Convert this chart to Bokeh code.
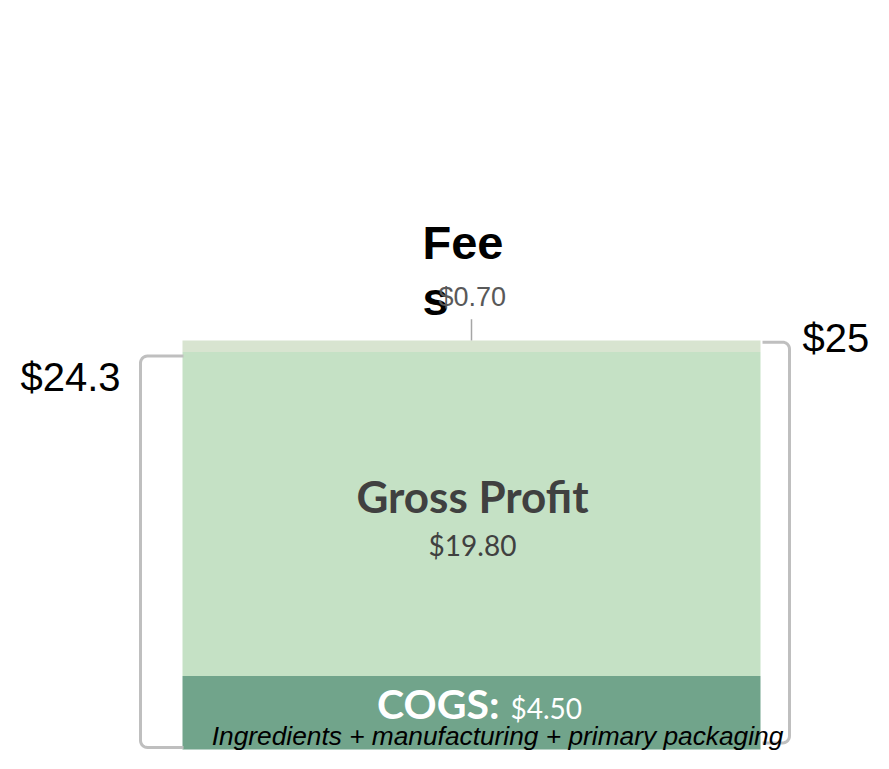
import numpy as np
from bokeh.plotting import figure
from bokeh.models import Range1d, Label, ColumnDataSource
from bokeh.embed import file_html
from bokeh.resources import INLINE

# ---- data ----
segments = ["COGS", "Gross Profit", "Fees"]
values = [4.50, 19.80, 0.70]
colors = ["#71a48b", "#c5e1c5", "#d8e4d0"]
cogs_note = "Ingredients + manufacturing + primary packaging"
subtotal_label = "$24.3"
total_label = "$25"

total = sum(values)
bottoms = [sum(values[:i]) for i in range(len(values))]
tops = [b + v for b, v in zip(bottoms, values)]
subtotal = values[0] + values[1]

W, H = 873, 753
px_per_unit = 16.36
y0_px = 749  # frame pixel (from top) of value 0
y_start = -(H - y0_px) / px_per_unit
y_end = y0_px / px_per_unit

p = figure(width=W, height=H, output_backend="svg", toolbar_location=None,
           x_range=Range1d(-8, W - 8), y_range=Range1d(y_start, y_end),
           min_border=0, outline_line_color=None)
p.xaxis.visible = False
p.yaxis.visible = False
p.grid.visible = False
p.background_fill_color = "white"
p.border_fill_color = "white"

src = ColumnDataSource(dict(seg=segments, bottom=bottoms, top=tops, color=colors))
p.quad(left=174, right=752, bottom="bottom", top="top", fill_color="color",
       line_color=None, source=src)

# brackets with rounded corners
def bracket(x_end, x_spine, y_top, y_bot, r=7):
    ry = r / px_per_unit
    s = 1 if x_end > x_spine else -1
    t = np.linspace(0, np.pi / 2, 8)
    # top corner
    xs = [x_end]
    ys = [y_top]
    xs += list(x_spine + s * r - s * r * np.sin(t))
    ys += list(y_top - ry + ry * np.cos(t))
    xs += list(x_spine + s * r - s * r * np.cos(t))
    ys += list(y_bot + ry - ry * np.sin(t))
    xs += [x_end]
    ys += [y_bot]
    return xs, ys

br = dict(line_color="#bfbfbf", line_width=3, line_join="round")
bx, by = bracket(175, 132, subtotal - 0.25, 0.12)
p.line(bx, by, **br)
bx, by = bracket(754, 781, total - 0.1, 0.4)
p.line(bx, by, **br)

# leader line for fees
p.segment(x0=463, y0=total, x1=463, y1=total + 1.3, line_color="#a6a6a6", line_width=1.5)

def lab(x, y, text, size, color="black", style="normal", font="Liberation Sans",
        align="left", yoff=0):
    p.add_layout(Label(x=x, y=y, text=text, text_font_size=f"{size}px",
                       text_color=color, text_font_style=style, text_font=font,
                       text_align=align, text_baseline="alphabetic",
                       y_offset=yoff + 0.4 * size))

# bracket labels
lab(12, subtotal, subtotal_label, 40, yoff=-41)
lab(794, total, total_label, 40, yoff=-13)

# Fees label (wrapped)
lab(414, total, "Fee", 47, style="bold", yoff=79)
lab(414, total, "s", 47, style="bold", yoff=23)
lab(430, total, f"${values[2]:.2f}", 27, color="#595959", yoff=33)

# Gross profit
gp_mid = bottoms[1] + values[1] / 2
lab(464, gp_mid, segments[1], 44, color="#404040", style="bold", font="Lato", align="center", yoff=0)
lab(464, gp_mid, f"${values[1]:.2f}", 28, color="#404040", font="Lato", align="center", yoff=-42)

# COGS
cogs_mid = values[0] / 2
lab(491, cogs_mid, segments[0] + ":", 41, color="white", style="bold", font="Lato", align="right", yoff=-7)
lab(502, cogs_mid, f"${values[0]:.2f}", 28, color="white", font="Lato", align="left", yoff=-7)
lab(489, 0, cogs_note, 26.3, style="italic", align="center", yoff=2.5)

open("out.html", "w").write(file_html(p, INLINE))
